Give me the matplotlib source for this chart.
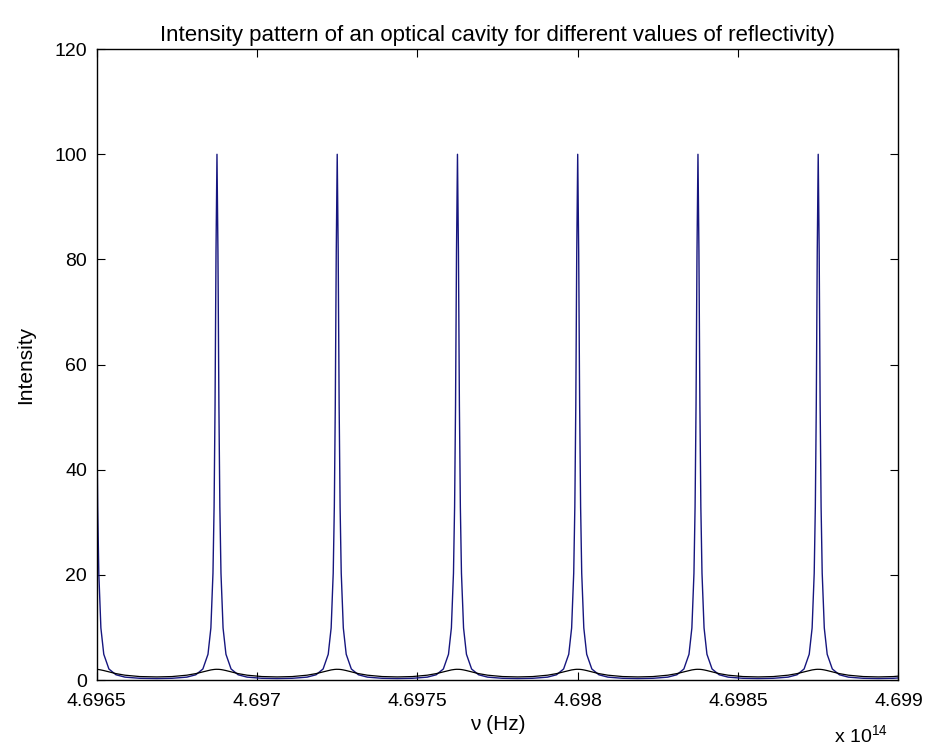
import numpy as np
import matplotlib.pyplot as plt

# peak positions (units of 1e14 Hz)
peak_centers = [4.696494, 4.696875, 4.69725, 4.697625, 4.698, 4.698375, 4.69875, 4.699125]

offset_ghz = [0, 0.3, 0.6, 0.9, 1.25, 1.9, 2.8, 4.4, 6.6, 9.4, 14.0, 18.75]
intensity_high_r = [100, 81.5, 52.3, 32.9, 20.3, 9.9, 4.9, 2.1, 1.0, 0.55, 0.33, 0.28]
intensity_low_r = [2.04, 2.04, 2.03, 2.01, 1.99, 1.92, 1.80, 1.55, 1.22, 0.92, 0.66, 0.59]

xticks = [4.6965, 4.697, 4.6975, 4.698, 4.6985, 4.699]
xticklabels = ['4.6965', '4.697', '4.6975', '4.698', '4.6985', '4.699']
yticks = [0, 20, 40, 60, 80, 100, 120]

plt.rcParams['font.family'] = ['Liberation Sans', 'DejaVu Sans']
plt.rcParams['mathtext.fontset'] = 'custom'
plt.rcParams['mathtext.rm'] = 'Liberation Sans'


def trace(values):
    off = np.array(offset_ghz) * 1e-5
    vals = np.array(values)
    xs, ys = [], []
    for c in peak_centers:
        xs.extend(c - off[::-1])
        ys.extend(vals[::-1])
        xs.extend(c + off[1:])
        ys.extend(vals[1:])
    return np.array(xs), np.array(ys)


fig = plt.figure(figsize=(9.3, 7.56), dpi=100)
ax = fig.add_axes([0.104, 0.1005, 0.862, 0.8345])

x1, y1 = trace(intensity_high_r)
x2, y2 = trace(intensity_low_r)
ax.plot(x1, y1, color='#16167f', lw=1.0)
ax.plot(x2, y2, color='black', lw=0.9)

ax.set_xlim(4.6965, 4.699)
ax.set_ylim(0, 120)
ax.set_xticks(xticks)
ax.set_xticklabels(xticklabels)
ax.set_yticks(yticks)
ax.tick_params(direction='in', length=6, width=0.8, top=True, right=True,
               labelsize=14)
ax.tick_params(axis='x', pad=9)
ax.tick_params(axis='y', pad=7)
for s in ax.spines.values():
    s.set_linewidth(1.0)

ax.set_title('Intensity pattern of an optical cavity for different values of reflectivity)',
             fontsize=16, pad=6)
ax.set_xlabel('ν (Hz)', fontsize=15, labelpad=4)
ax.set_ylabel('Intensity', fontsize=15, labelpad=14)
fig.text(0.897, 0.012, r'x 10$^{14}$', fontsize=14, ha='left', va='bottom')

fig.savefig('out.png', dpi=100)
